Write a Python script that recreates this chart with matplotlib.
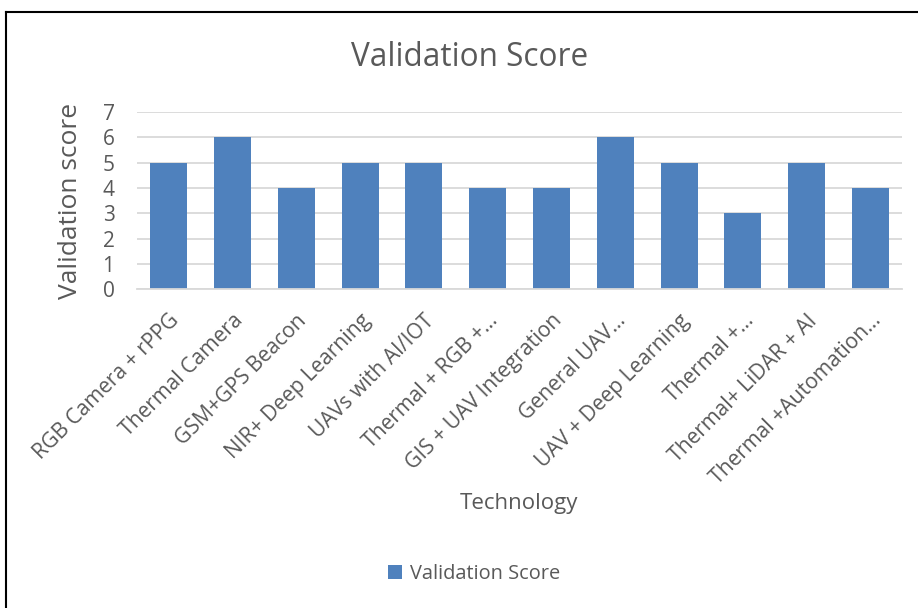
import matplotlib
matplotlib.use("Agg")
import matplotlib.pyplot as plt
from matplotlib.lines import Line2D

technologies = [
    "RGB Camera + rPPG", "Thermal Camera", "GSM+GPS Beacon", "NIR+ Deep Learning",
    "UAVs with AI/IOT", "Thermal + RGB +\u2026", "GIS + UAV Integration", "General UAV\u2026",
    "UAV + Deep Learning", "Thermal +\u2026", "Thermal+ LiDAR + AI", "Thermal +Automation\u2026",
]
scores = [5, 6, 4, 5, 5, 4, 4, 6, 5, 3, 5, 4]
yticks = [0, 1, 2, 3, 4, 5, 6, 7]

plt.rcParams['font.family'] = ['Open Sans', 'DejaVu Sans']
txt = '#595959'
grid = '#D9D9D9'
blue = '#4F81BD'

fig = plt.figure(figsize=(9.18, 6.08), dpi=100)
ax = fig.add_axes([0.149, 0.524, 0.834, 0.292])

x = range(len(technologies))
ax.bar(x, scores, width=0.58, color=blue, zorder=2, label='Validation Score')
ax.set_xlim(-0.5, len(technologies) - 0.5)
ax.set_ylim(0, 7)
ax.set_yticks(yticks)
ax.set_xticks(list(x))
ax.set_xticklabels(technologies, rotation=45, ha='right', rotation_mode='anchor',
                   fontsize=15.2, color=txt)
ax.tick_params(axis='both', length=0, colors=txt)
ax.tick_params(axis='y', labelsize=15, pad=16)
ax.tick_params(axis='x', pad=15)
ax.grid(axis='y', color=grid, linewidth=1.3, zorder=0)
for s in ['top', 'right', 'left']:
    ax.spines[s].set_visible(False)
ax.spines['bottom'].set_color(grid)
ax.spines['bottom'].set_linewidth(1.3)

ax.set_ylabel('Validation score', fontsize=19, color=txt, labelpad=14)
fig.text(0.565, 0.172, 'Technology', ha='center', va='center', fontsize=16, color=txt)
fig.text(0.511, 0.906, 'Validation Score', ha='center', va='center', fontsize=22.7, color=txt)

leg = fig.legend(loc='center', bbox_to_anchor=(0.516, 0.056), frameon=False,
                 fontsize=14.4, handlelength=0.7, handleheight=0.7, handletextpad=0.4)
for t in leg.get_texts():
    t.set_color(txt)

# chart border (only top and left edges are visible)
fig.add_artist(Line2D([0.0065, 1.0], [1 - 11.5 / 608, 1 - 11.5 / 608],
                      transform=fig.transFigure, color='black', linewidth=1.5))
fig.add_artist(Line2D([0.0065, 0.0065], [0.0, 1 - 11.5 / 608],
                      transform=fig.transFigure, color='black', linewidth=1.5))

fig.savefig('out.png', dpi=100)
